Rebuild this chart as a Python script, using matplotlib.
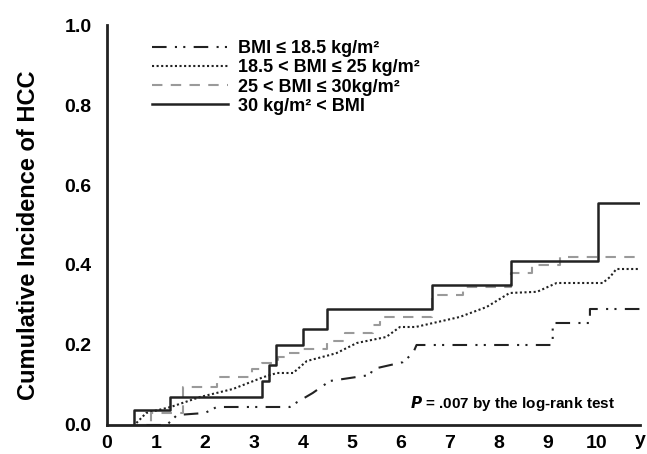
import matplotlib
matplotlib.use("Agg")
import matplotlib.pyplot as plt

plt.rcParams['font.family'] = ['Liberation Sans', 'DejaVu Sans']
plt.rcParams['font.weight'] = 'bold'

# Data
obese_t = [0.55, 0.55, 1.29, 3.17, 3.31, 3.45, 4.0, 4.5, 6.63, 8.24, 10.02, 10.88]
obese_y = [0.0, 0.037, 0.07, 0.11, 0.15, 0.20, 0.24, 0.29, 0.35, 0.41, 0.555, 0.555]

over_t = [0.6, 0.9, 1.55, 2.25, 2.96, 3.17, 3.5, 3.7, 3.94, 4.5, 4.86, 5.43, 5.57, 6.63, 7.27, 8.24, 8.67, 9.24, 10.88]
over_y = [0.0, 0.03, 0.095, 0.12, 0.14, 0.155, 0.17, 0.18, 0.19, 0.21, 0.23, 0.25, 0.27, 0.325, 0.345, 0.38, 0.40, 0.42, 0.42]

normal_t = [0.6, 0.8, 1.3, 1.9, 2.57, 3.2, 3.47, 3.8, 4.08, 4.55, 4.69, 5.1, 5.7, 5.98, 6.3, 7.2, 7.75, 8.22, 8.78, 9.18, 10.12, 10.27, 10.4, 10.88]
normal_y = [0.005, 0.03, 0.045, 0.07, 0.09, 0.12, 0.13, 0.13, 0.16, 0.175, 0.18, 0.205, 0.22, 0.245, 0.245, 0.27, 0.295, 0.33, 0.333, 0.355, 0.355, 0.37, 0.39, 0.39]

under_t = [0.8, 1.22, 1.43, 2.0, 2.24, 3.73, 3.88, 4.2, 4.55, 5.37, 5.43, 6.04, 6.25, 6.32, 9.1, 9.1, 9.86, 9.86, 10.88]
under_y = [0.0, 0.0, 0.025, 0.03, 0.045, 0.045, 0.057, 0.08, 0.11, 0.125, 0.14, 0.157, 0.18, 0.2, 0.2, 0.255, 0.255, 0.29, 0.29]

labels = ["BMI \u2264 18.5 kg/m\u00b2", "18.5 < BMI \u2264 25 kg/m\u00b2",
          "25 < BMI \u2264 30kg/m\u00b2", "30 kg/m\u00b2 < BMI"]
xticks = list(range(11))
yticks = [0.0, 0.2, 0.4, 0.6, 0.8, 1.0]

fig = plt.figure(figsize=(6.47, 4.54), dpi=100)
ax = fig.add_axes([0.1654, 0.0639, 0.8236, 0.881])

lw = 1.5
l1, = ax.plot(under_t, under_y, color='#222222', lw=lw, dashes=(7, 4, 1, 3, 1, 4))
l2, = ax.plot(normal_t, normal_y, color='#222222', lw=lw, dashes=(1, 1.2))
l3, = ax.step(over_t, over_y, where='post', color='#9a9a9a', lw=lw, dashes=(5, 4))
l4, = ax.step(obese_t, obese_y, where='post', color='#222222', lw=1.8)

ax.set_xlim(0, 10.88)
ax.set_ylim(0, 1.0)
ax.set_xticks(xticks)
ax.set_xticklabels([str(t) for t in xticks])
ax.set_yticks(yticks)
ax.set_yticklabels([f"{v:.1f}" for v in yticks])
ax.tick_params(length=0, labelsize=14)
ax.tick_params(axis='x', pad=7)
ax.tick_params(axis='y', pad=11)
for lab in ax.get_xticklabels() + ax.get_yticklabels():
    lab.set_fontweight('bold')
ax.spines['top'].set_visible(False)
ax.spines['right'].set_visible(False)
for s in ['left', 'bottom']:
    ax.spines[s].set_linewidth(2)
    ax.spines[s].set_color('#222222')

ax.set_ylabel("Cumulative Incidence of HCC", fontsize=17, fontweight='bold')
ax.yaxis.set_label_coords(-0.125, 0.475)

ax.annotate("y", xy=(1.0, 0), xycoords='axes fraction', xytext=(0, -5),
            textcoords='offset points', ha='center', va='top', fontsize=14, fontweight='bold')

ax.text(0.953, 0.0525, r"$\mathbfit{P}$" + " = .007 by the log-rank test", transform=ax.transAxes,
        ha='right', va='center', fontsize=11, fontweight='bold')

leg = ax.legend([l1, l2, l3, l4], labels, loc='upper left', bbox_to_anchor=(0.071, 0.98),
                borderaxespad=0, frameon=False, handlelength=4.2, handletextpad=0.55,
                labelspacing=0.12, prop={'weight': 'bold', 'size': 13})

fig.savefig("out.png", dpi=100)
